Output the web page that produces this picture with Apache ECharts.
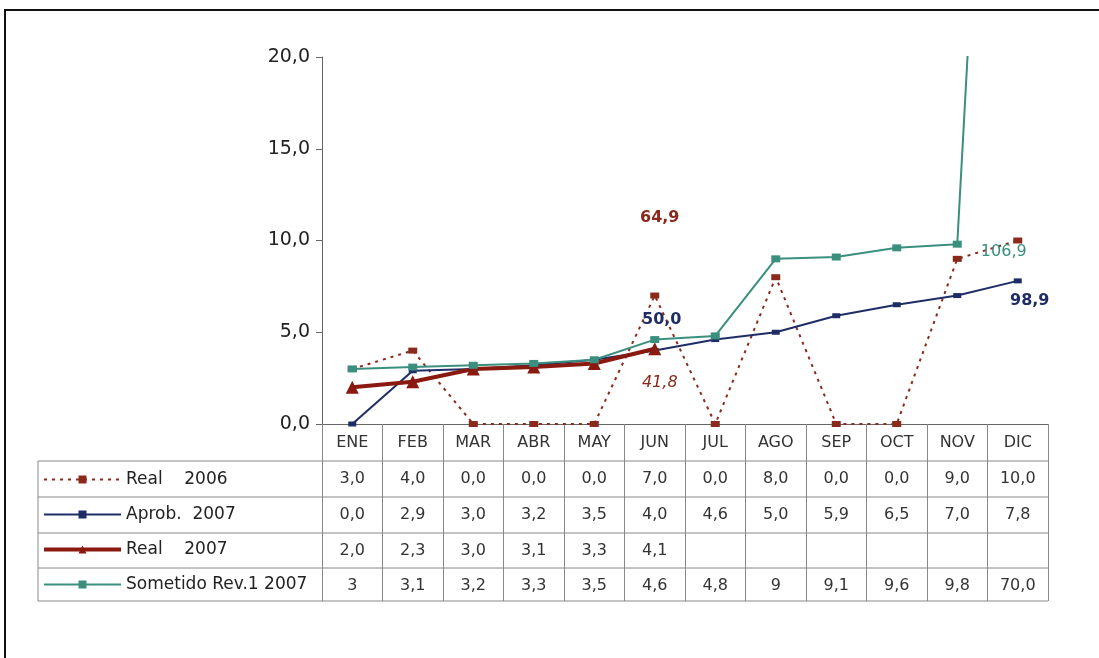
<!DOCTYPE html>
<html>
<head>
<meta charset="utf-8">
<script src="https://cdn.jsdelivr.net/npm/echarts@6/dist/echarts.min.js"></script>
<style>
  html, body { margin: 0; padding: 0; background: #fff; }
  #chart { width: 1099px; height: 658px; }
</style>
</head>
<body>
<div id="chart"></div>
<script>
// Monthly series
const months = ['ENE', 'FEB', 'MAR', 'ABR', 'MAY', 'JUN', 'JUL', 'AGO', 'SEP', 'OCT', 'NOV', 'DIC'];
const real2006 = [3.0, 4.0, 0.0, 0.0, 0.0, 7.0, 0.0, 8.0, 0.0, 0.0, 9.0, 10.0];
const aprob2007 = [0.0, 2.9, 3.0, 3.2, 3.5, 4.0, 4.6, 5.0, 5.9, 6.5, 7.0, 7.8];
const real2007 = [2.0, 2.3, 3.0, 3.1, 3.3, 4.1];
const sometido2007 = [3, 3.1, 3.2, 3.3, 3.5, 4.6, 4.8, 9, 9.1, 9.6, 9.8, 70.0];
// Text shown in the data table row of the revised plan
const sometidoLabels = ['3', '3,1', '3,2', '3,3', '3,5', '4,6', '4,8', '9', '9,1', '9,6', '9,8', '70,0'];
const seriesNames = ['Real    2006', 'Aprob.  2007', 'Real    2007', 'Sometido Rev.1 2007'];
const yTicks = { min: 0, max: 20, interval: 5 };

const fmt = v => v.toFixed(1).replace('.', ',');
const fam = '"DejaVu Sans", sans-serif';

const C_RED = '#8a2a1c';
const C_RED07 = '#8a1a10';
const C_NAVY = '#1f2d66';
const C_TEAL = '#3a8f7e';

// Grid geometry
const G_LEFT = 322, G_RIGHT = 51, G_TOP = 57, G_BOTTOM = 658 - 424;
const rowCenters = [479, 515, 551, 586];   // table body rows
const rowLines = [461, 497, 533, 568, 601];

const tableRows = [
  real2006.map(fmt),
  aprob2007.map(fmt),
  months.map((m, i) => i < real2007.length ? fmt(real2007[i]) : ''),
  sometidoLabels
];

const rowAxes = tableRows.map((labels, r) => ({
  type: 'category',
  gridIndex: 0,
  position: 'bottom',
  data: labels,
  boundaryGap: true,
  axisLine: { show: false },
  axisTick: { show: false },
  splitLine: { show: false },
  axisLabel: {
    interval: 0,
    margin: rowCenters[r] - 424,
    verticalAlign: 'middle',
    fontFamily: fam,
    fontSize: 16,
    color: '#333'
  }
}));

const chart = echarts.init(document.getElementById('chart'), null, { renderer: 'canvas' });

const markLabel = (text, color, weight, style) => ({
  show: true,
  position: 'inside',
  formatter: text,
  color: color,
  fontFamily: fam,
  fontSize: 16,
  fontWeight: weight,
  fontStyle: style
});

chart.setOption({
  backgroundColor: '#ffffff',
  animation: false,
  grid: {
    left: G_LEFT, right: G_RIGHT, top: G_TOP, bottom: G_BOTTOM,
    outerBoundsMode: 'none'
  },
  legend: {
    orient: 'vertical',
    left: 42,
    top: 471,
    padding: 0,
    itemWidth: 77,
    itemHeight: 10,
    itemGap: 18,
    selectedMode: false,
    textStyle: { fontFamily: fam, fontSize: 17, color: '#222' },
    data: [
      { name: seriesNames[0], lineStyle: { width: 2 } },
      { name: seriesNames[1], lineStyle: { width: 2 } },
      { name: seriesNames[2], lineStyle: { width: 4 } },
      { name: seriesNames[3], lineStyle: { width: 2 } }
    ]
  },
  xAxis: [{
    type: 'category',
    gridIndex: 0,
    position: 'bottom',
    data: months,
    boundaryGap: true,
    axisLine: { show: true, lineStyle: { color: '#666', width: 1 } },
    axisTick: { show: true, interval: 0, length: 177, lineStyle: { color: '#888', width: 1 } },
    splitLine: { show: false },
    axisLabel: {
      interval: 0,
      margin: 19,
      verticalAlign: 'middle',
      fontFamily: fam,
      fontSize: 16,
      color: '#333'
    }
  }].concat(rowAxes),
  yAxis: {
    type: 'value',
    min: yTicks.min,
    max: yTicks.max,
    interval: yTicks.interval,
    axisLine: { show: true, lineStyle: { color: '#666', width: 1 } },
    axisTick: { show: true, length: 6, lineStyle: { color: '#666' } },
    splitLine: { show: false },
    axisLabel: {
      margin: 12,
      formatter: v => fmt(v),
      fontFamily: fam,
      fontSize: 19,
      color: '#222'
    }
  },
  series: [
    {
      name: seriesNames[0],
      type: 'line',
      data: real2006,
      symbol: 'rect',
      symbolSize: [9, 6],
      itemStyle: { color: C_RED },
      lineStyle: { color: C_RED, width: 2, type: [3, 5] },
      markPoint: {
        symbol: 'circle',
        symbolSize: 1,
        itemStyle: { color: 'rgba(0,0,0,0)' },
        data: [
          { coord: [5, 11.23], label: Object.assign(markLabel('64,9', C_RED, 'bold', 'normal'), { offset: [5, 0] }) },
          { coord: [5, 2.23], label: Object.assign(markLabel('41,8', C_RED, 'normal', 'italic'), { offset: [5, 0] }) }
        ]
      }
    },
    {
      name: seriesNames[1],
      type: 'line',
      data: aprob2007,
      symbol: 'rect',
      symbolSize: [8, 5],
      itemStyle: { color: C_NAVY },
      lineStyle: { color: C_NAVY, width: 2 },
      markPoint: {
        symbol: 'circle',
        symbolSize: 1,
        itemStyle: { color: 'rgba(0,0,0,0)' },
        data: [
          { coord: [5, 5.67], label: Object.assign(markLabel('50,0', C_NAVY, 'bold', 'normal'), { offset: [7, 0] }) },
          { coord: [11, 6.7], label: Object.assign(markLabel('98,9', C_NAVY, 'bold', 'normal'), { offset: [12, 0] }) }
        ]
      }
    },
    {
      name: seriesNames[2],
      type: 'line',
      data: real2007,
      symbol: 'triangle',
      symbolSize: 13,
      itemStyle: { color: C_RED07 },
      lineStyle: { color: C_RED07, width: 4 }
    },
    {
      name: seriesNames[3],
      type: 'line',
      data: sometido2007,
      symbol: 'rect',
      symbolSize: [9, 7],
      clip: true,
      itemStyle: { color: C_TEAL },
      lineStyle: { color: C_TEAL, width: 2 },
      markPoint: {
        symbol: 'circle',
        symbolSize: 1,
        itemStyle: { color: 'rgba(0,0,0,0)' },
        data: [
          { coord: [11, 9.37], label: Object.assign(markLabel('106,9', C_TEAL, 'normal', 'normal'), { offset: [-14, 0] }) }
        ]
      }
    }
  ],
  graphic: [
    // outer frame
    {
      type: 'rect',
      shape: { x: 5, y: 10, width: 1100, height: 660 },
      style: { fill: 'none', stroke: '#111', lineWidth: 2 },
      silent: true
    },
    // data table horizontal rules
    ...rowLines.map(y => ({
      type: 'line',
      shape: { x1: 38, y1: y, x2: 1048, y2: y },
      style: { stroke: '#888', lineWidth: 1 },
      silent: true
    })),
    {
      type: 'line',
      shape: { x1: 38, y1: rowLines[0], x2: 38, y2: rowLines[rowLines.length - 1] },
      style: { stroke: '#888', lineWidth: 1 },
      silent: true
    }
  ]
});
</script>
</body>
</html>
